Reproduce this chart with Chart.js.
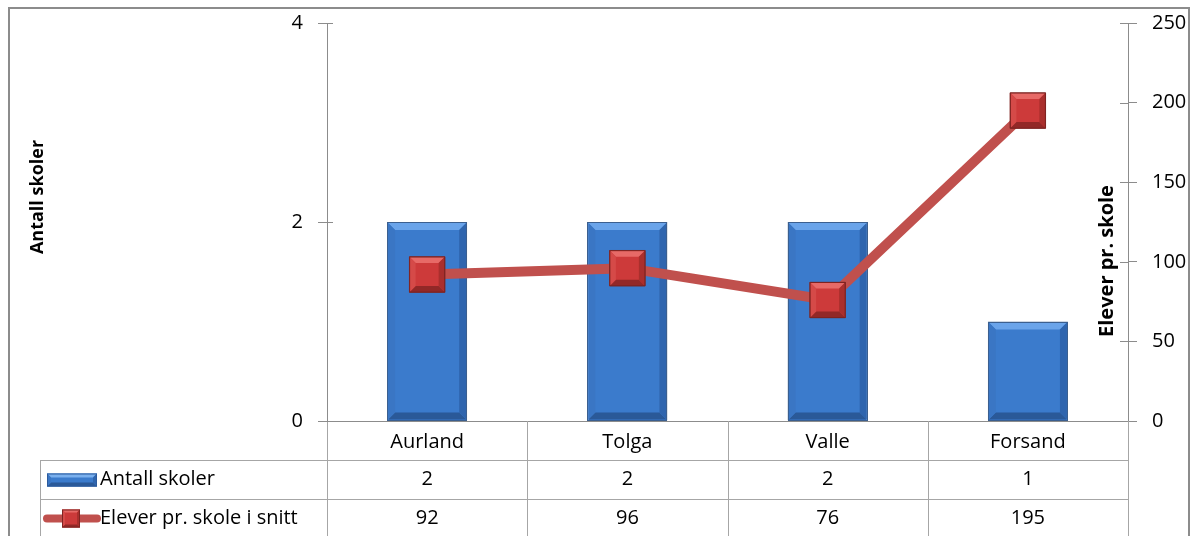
<!DOCTYPE html>
<html>
<head>
<meta charset="utf-8">
<script src="https://cdn.jsdelivr.net/npm/chart.js@4"></script>
<style>
  html, body { margin: 0; padding: 0; background: #fff; }
  #wrap { width: 1196px; height: 536px; position: relative; }
</style>
</head>
<body>
<div id="wrap"><canvas id="chart" width="1196" height="536"></canvas></div>
<script>
const categories = ['Aurland', 'Tolga', 'Valle', 'Forsand'];
const antallSkoler = [2, 2, 2, 1];
const eleverPrSkole = [92, 96, 76, 195];
const leftTicks = [0, 2, 4];
const rightTicks = [0, 50, 100, 150, 200, 250];

const FONT = '"Open Sans", "Liberation Sans", sans-serif';

// bevel edges like Excel's 3D shape effect
function bevel(ctx, l, t, r, b, d, c) {
    const poly = (pts, col) => {
        ctx.fillStyle = col;
        ctx.beginPath();
        ctx.moveTo(pts[0][0], pts[0][1]);
        for (let i = 1; i < pts.length; i++) ctx.lineTo(pts[i][0], pts[i][1]);
        ctx.closePath();
        ctx.fill();
    };
    poly([[l, t], [r, t], [r - d, t + d], [l + d, t + d]], c.top);
    poly([[l, b], [r, b], [r - d, b - d], [l + d, b - d]], c.bottom);
    poly([[l, t], [l + d, t + d], [l + d, b - d], [l, b]], c.left);
    poly([[r, t], [r - d, t + d], [r - d, b - d], [r, b]], c.right);
}

const bevelPlugin = {
    id: 'bevel',
    afterDatasetDraw(chart, args) {
        const ctx = chart.ctx;
        const meta = args.meta;
        ctx.save();
        if (meta.type === 'bar') {
            meta.data.forEach(el => {
                const l = el.x - el.width / 2 + 1, r = el.x + el.width / 2 - 1;
                const t = el.y + 1, b = el.base - 1;
                bevel(ctx, l, t, r, b, 7, { top: '#6aa4ea', left: '#3a76c4', right: '#2f65ae', bottom: '#2a5998' });
                ctx.strokeStyle = '#3b5f8f';
                ctx.lineWidth = 1;
                ctx.strokeRect(Math.round(l) - 0.5, Math.round(t) - 0.5, Math.round(r - l) + 1, Math.round(b - t) + 1);
            });
        } else if (meta.type === 'line') {
            meta.data.forEach(el => {
                const h = 17.5;
                bevel(ctx, el.x - h, el.y - h, el.x + h, el.y + h, 6, { top: '#e76a67', left: '#d54a48', right: '#aa2f2d', bottom: '#922827' });
                ctx.strokeStyle = '#7e2422';
                ctx.lineWidth = 1;
                ctx.strokeRect(el.x - h, el.y - h, 2 * h, 2 * h);
            });
        }
        ctx.restore();
    }
};

// Excel-style data table, frame and axis titles
const tablePlugin = {
    id: 'dataTable',
    afterDraw(chart) {
        const ctx = chart.ctx;
        const area = chart.chartArea;
        const x = chart.scales.x;
        const n = categories.length;
        const colW = (area.right - area.left) / n;
        const row0 = area.bottom;
        const row1 = area.bottom + 39;
        const row2 = area.bottom + 78;
        const tableLeft = 40;
        const bottom = chart.height;

        ctx.save();
        ctx.strokeStyle = '#a6a6a6';
        ctx.lineWidth = 1;
        ctx.beginPath();
        for (let i = 0; i <= n; i++) {
            const lx = Math.round(area.left + i * colW) + 0.5;
            ctx.moveTo(lx, row0);
            ctx.lineTo(lx, bottom);
        }
        ctx.moveTo(tableLeft + 0.5, row1);
        ctx.lineTo(tableLeft + 0.5, bottom);
        ctx.moveTo(tableLeft, row1 + 0.5);
        ctx.lineTo(area.right, row1 + 0.5);
        ctx.moveTo(tableLeft, row2 + 0.5);
        ctx.lineTo(area.right, row2 + 0.5);
        ctx.stroke();

        // inner halves of the axis tick marks
        ctx.strokeStyle = '#8c8c8c';
        ctx.beginPath();
        const yl = chart.scales.y, yr = chart.scales.y1;
        leftTicks.forEach(v => {
            const py = Math.round(yl.getPixelForValue(v)) + 0.5;
            ctx.moveTo(area.left, py);
            ctx.lineTo(area.left + 6, py);
        });
        rightTicks.forEach(v => {
            const py = Math.round(yr.getPixelForValue(v)) + 0.5;
            ctx.moveTo(area.right - 8, py);
            ctx.lineTo(area.right, py);
        });
        ctx.stroke();

        // values
        ctx.fillStyle = '#000';
        ctx.font = '20px ' + FONT;
        ctx.textAlign = 'center';
        ctx.textBaseline = 'middle';
        for (let i = 0; i < n; i++) {
            const cx = x.getPixelForValue(i);
            ctx.fillText(String(antallSkoler[i]), cx, (row1 + row2) / 2);
            ctx.fillText(String(eleverPrSkole[i]), cx, (row2 + row2 + 39) / 2);
        }

        // legend keys
        const k1y = (row1 + row2) / 2;
        ctx.fillStyle = '#3b7bcc';
        ctx.fillRect(47, k1y - 6, 50, 13);
        bevel(ctx, 47, k1y - 6, 97, k1y + 7, 4, { top: '#7ab0ee', left: '#3a76c4', right: '#2f65ae', bottom: '#2a5998' });
        ctx.strokeStyle = '#2c5a9c';
        ctx.lineWidth = 1;
        ctx.strokeRect(47.5, k1y - 5.5, 49, 12);

        const k2y = (row2 + row2 + 39) / 2;
        ctx.strokeStyle = '#c0504d';
        ctx.lineWidth = 8;
        ctx.lineCap = 'round';
        ctx.beginPath();
        ctx.moveTo(47, k2y);
        ctx.lineTo(97, k2y);
        ctx.stroke();
        ctx.lineCap = 'butt';
        ctx.fillStyle = '#cc3a3a';
        ctx.fillRect(62, k2y - 9, 18, 18);
        bevel(ctx, 62, k2y - 9, 80, k2y + 9, 3, { top: '#e76a67', left: '#d54a48', right: '#aa2f2d', bottom: '#922827' });
        ctx.strokeStyle = '#7e2422';
        ctx.lineWidth = 1;
        ctx.strokeRect(62.5, k2y - 8.5, 17, 17);

        ctx.fillStyle = '#000';
        ctx.font = '20px ' + FONT;
        ctx.textAlign = 'left';
        ctx.fillText('Antall skoler', 100, k1y);
        ctx.fillText('Elever pr. skole i snitt', 100, k2y);

        // axis titles
        ctx.textAlign = 'center';
        ctx.save();
        ctx.font = 'bold 18px ' + FONT;
        ctx.translate(38, 197);
        ctx.rotate(-Math.PI / 2);
        ctx.fillText('Antall skoler', 0, 0);
        ctx.restore();
        ctx.save();
        ctx.font = 'bold 20px ' + FONT;
        ctx.translate(1107, 261);
        ctx.rotate(-Math.PI / 2);
        ctx.fillText('Elever pr. skole', 0, 0);
        ctx.restore();

        // outer frame
        ctx.strokeStyle = '#8c8c8c';
        ctx.lineWidth = 2;
        ctx.beginPath();
        ctx.moveTo(9, bottom);
        ctx.lineTo(9, 8);
        ctx.lineTo(1189, 8);
        ctx.lineTo(1189, bottom);
        ctx.stroke();
        ctx.restore();
    }
};

function noVPad(scale) {
    scale.paddingTop = 0;
    scale.paddingBottom = 0;
}

new Chart(document.getElementById('chart').getContext('2d'), {
    type: 'bar',
    data: {
        labels: categories,
        datasets: [{
            type: 'line',
            label: 'Elever pr. skole i snitt',
            data: eleverPrSkole,
            yAxisID: 'y1',
            order: 0,
            borderColor: '#c0504d',
            borderWidth: 10,
            tension: 0,
            pointStyle: 'rect',
            pointRadius: 25,
            pointBackgroundColor: '#cd3a3a',
            pointBorderColor: '#7e2422',
            pointBorderWidth: 1,
            clip: false
        }, {
            label: 'Antall skoler',
            data: antallSkoler,
            yAxisID: 'y',
            order: 1,
            backgroundColor: '#3b7bcc',
            borderColor: '#3b5f8f',
            borderWidth: 1,
            categoryPercentage: 0.4,
            barPercentage: 1
        }]
    },
    options: {
        responsive: false,
        animation: false,
        layout: { autoPadding: false, padding: { top: 23, left: 0, right: 0, bottom: 0 } },
        plugins: {
            legend: { display: false },
            tooltip: { enabled: false }
        },
        scales: {
            x: {
                afterFit(scale) {
                    scale.height = 115;
                    scale.paddingLeft = 0;
                    scale.paddingRight = 0;
                },
                grid: { display: false },
                border: { display: true, color: '#8c8c8c' },
                ticks: { color: '#000', font: { family: FONT, size: 20 }, padding: 1 }
            },
            y: {
                position: 'left',
                min: 0,
                max: 4,
                afterFit(scale) { scale.width = 327; noVPad(scale); },
                afterBuildTicks(scale) { scale.ticks = leftTicks.map(v => ({ value: v })); },
                grid: { drawOnChartArea: false, tickLength: 9, color: '#8c8c8c' },
                border: { color: '#8c8c8c' },
                ticks: { color: '#000', font: { family: FONT, size: 20 }, padding: 15 }
            },
            y1: {
                position: 'right',
                min: 0,
                max: 250,
                afterFit(scale) { scale.width = 68; noVPad(scale); },
                afterBuildTicks(scale) { scale.ticks = rightTicks.map(v => ({ value: v })); },
                grid: { drawOnChartArea: false, tickLength: 9, color: '#8c8c8c' },
                border: { color: '#8c8c8c' },
                ticks: { color: '#000', font: { family: FONT, size: 20 }, padding: 15 }
            }
        }
    },
    plugins: [bevelPlugin, tablePlugin]
});
</script>
</body>
</html>
